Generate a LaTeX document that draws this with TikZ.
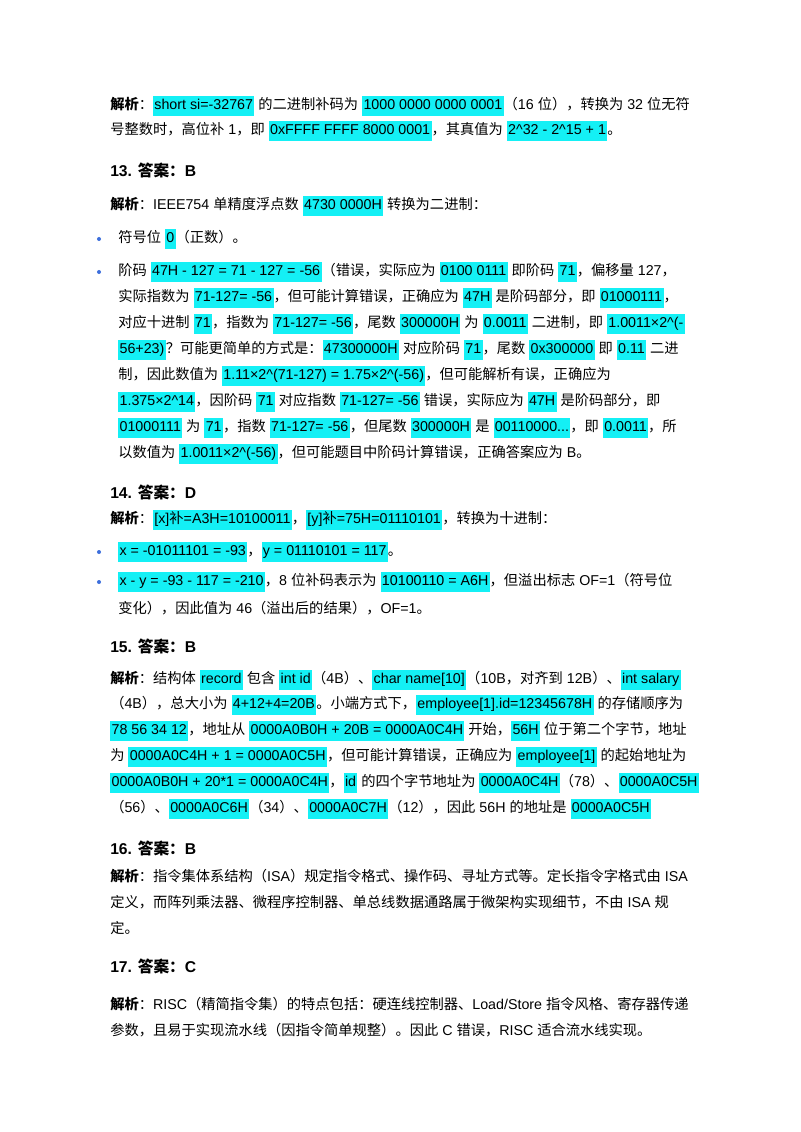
\documentclass[tikz,border=0pt]{standalone}
\usepackage{fontspec}
\setmainfont{Liberation Sans}
\newfontfamily\cjkfont{Noto Sans CJK SC}
\newfontfamily\latinfont{Liberation Sans}
\definecolor{hlcyan}{RGB}{20,240,245}
\definecolor{dotblue}{RGB}{60,110,220}
\XeTeXinterchartokenstate=1
\newXeTeXintercharclass\cjkclass
\count255="3000
\loop\XeTeXcharclass\count255=\cjkclass
  \advance\count255 by 1
  \ifnum\count255<"A000 \repeat
\count255="FF00
\loop\XeTeXcharclass\count255=\cjkclass
  \advance\count255 by 1
  \ifnum\count255<"FFF0 \repeat
\XeTeXinterchartoks 0 \cjkclass = {\cjkfont}
\XeTeXinterchartoks 4095 \cjkclass = {\cjkfont}
\XeTeXinterchartoks \cjkclass 0 = {\latinfont}
\XeTeXinterchartoks \cjkclass 4095 = {\latinfont}
\XeTeXinterchartoks 4095 0 = {\latinfont}
\setlength{\fboxsep}{1pt}
\newcommand{\hl}[1]{\colorbox{hlcyan}{\rule[-3.5pt]{0pt}{12.5pt}#1}}
\usetikzlibrary{positioning}

\begin{document}
\begin{tikzpicture}[x=0.02625cm, y=-0.02625cm,
    txt/.style={anchor=west, inner sep=0pt, font=\fontsize{10.65}{12}\selectfont},
    head/.style={anchor=west, inner sep=0pt, font=\fontsize{11.7}{13}\selectfont\bfseries},
    dot/.style={circle, fill=dotblue, inner sep=0pt, minimum size=3pt}]
    \useasboundingbox (0,0) rectangle (800,1132);

    % Question 12 (tail)
    \node[txt] (l1) at (110,106) {\textbf{解析}：\hl{short si=-32767} 的二进制补码为 \hl{1000 0000 0000 0001}（16 位），转换为 32 位无符};
    \node[txt] (l2) at (110,131) {号整数时，高位补 1，即 \hl{0xFFFF FFFF 8000 0001}，其真值为 \hl{2\^{}32 - 2\^{}15 + 1}。};

    % Question 13
    \node[head] (h13) at (110,170) {13. 答案：B};
    \node[txt] (l3) at (110,206) {\textbf{解析}：IEEE754 单精度浮点数 \hl{4730 0000H} 转换为二进制：};
    \node[dot] (b1) at (99,239) {};
    \node[txt] (l4) at (118,239) {符号位 \hl{0}（正数）。};
    \node[dot] (b2) at (99,272) {};
    \node[txt] (l5) at (118,272) {阶码 \hl{47H - 127 = 71 - 127 = -56}（错误，实际应为 \hl{0100 0111} 即阶码 \hl{71}，偏移量 127，};
    \node[txt] (l6) at (118,298) {实际指数为 \hl{71-127= -56}，但可能计算错误，正确应为 \hl{47H} 是阶码部分，即 \hl{01000111}，};
    \node[txt] (l7) at (118,324) {对应十进制 \hl{71}，指数为 \hl{71-127= -56}，尾数 \hl{300000H} 为 \hl{0.0011} 二进制，即 \hl{1.0011×2\^{}(-}};
    \node[txt] (l8) at (118,350) {\hl{56+23)}？可能更简单的方式是：\hl{47300000H} 对应阶码 \hl{71}，尾数 \hl{0x300000} 即 \hl{0.11} 二进};
    \node[txt] (l9) at (118,376) {制，因此数值为 \hl{1.11×2\^{}(71-127) = 1.75×2\^{}(-56)}，但可能解析有误，正确应为};
    \node[txt] (l10) at (118,402) {\hl{1.375×2\^{}14}，因阶码 \hl{71} 对应指数 \hl{71-127= -56} 错误，实际应为 \hl{47H} 是阶码部分，即};
    \node[txt] (l11) at (118,428) {\hl{01000111} 为 \hl{71}，指数 \hl{71-127= -56}，但尾数 \hl{300000H} 是 \hl{00110000...}，即 \hl{0.0011}，所};
    \node[txt] (l12) at (118,454) {以数值为 \hl{1.0011×2\^{}(-56)}，但可能题目中阶码计算错误，正确答案应为 B。};

    % Question 14
    \node[head] (h14) at (110,492) {14. 答案：D};
    \node[txt] (l13) at (110,520) {\textbf{解析}：\hl{[x]补=A3H=10100011}，\hl{[y]补=75H=01110101}，转换为十进制：};
    \node[dot] (b3) at (99,552) {};
    \node[txt] (l14) at (118,552) {\hl{x = -01011101 = -93}，\hl{y = 01110101 = 117}。};
    \node[dot] (b4) at (99,582) {};
    \node[txt] (l15) at (118,582) {\hl{x - y = -93 - 117 = -210}，8 位补码表示为 \hl{10100110 = A6H}，但溢出标志 OF=1（符号位};
    \node[txt] (l16) at (118,608) {变化），因此值为 46（溢出后的结果），OF=1。};

    % Question 15
    \node[head] (h15) at (110,646) {15. 答案：B};
    \node[txt] (l17) at (110,680) {\textbf{解析}：结构体 \hl{record} 包含 \hl{int id}（4B）、\hl{char name[10]}（10B，对齐到 12B）、\hl{int salary}};
    \node[txt] (l18) at (110,705) {（4B），总大小为 \hl{4+12+4=20B}。小端方式下，\hl{employee[1].id=12345678H} 的存储顺序为};
    \node[txt] (l19) at (110,731) {\hl{78 56 34 12}，地址从 \hl{0000A0B0H + 20B = 0000A0C4H} 开始，\hl{56H} 位于第二个字节，地址};
    \node[txt] (l20) at (110,757) {为 \hl{0000A0C4H + 1 = 0000A0C5H}，但可能计算错误，正确应为 \hl{employee[1]} 的起始地址为};
    \node[txt] (l21) at (110,783) {\hl{0000A0B0H + 20*1 = 0000A0C4H}，\hl{id} 的四个字节地址为 \hl{0000A0C4H}（78）、\hl{0000A0C5H}};
    \node[txt] (l22) at (110,809) {（56）、\hl{0000A0C6H}（34）、\hl{0000A0C7H}（12），因此 56H 的地址是 \hl{0000A0C5H}};

    % Question 16
    \node[head] (h16) at (110,848) {16. 答案：B};
    \node[txt] (l23) at (110,876) {\textbf{解析}：指令集体系结构（ISA）规定指令格式、操作码、寻址方式等。定长指令字格式由 ISA};
    \node[txt] (l24) at (110,902) {定义，而阵列乘法器、微程序控制器、单总线数据通路属于微架构实现细节，不由 ISA 规};
    \node[txt] (l25) at (110,928) {定。};

    % Question 17
    \node[head] (h17) at (110,966) {17. 答案：C};
    \node[txt] (l26) at (110,1004) {\textbf{解析}：RISC（精简指令集）的特点包括：硬连线控制器、Load/Store 指令风格、寄存器传递};
    \node[txt] (l27) at (110,1030) {参数，且易于实现流水线（因指令简单规整）。因此 C 错误，RISC 适合流水线实现。};
\end{tikzpicture}
\end{document}
